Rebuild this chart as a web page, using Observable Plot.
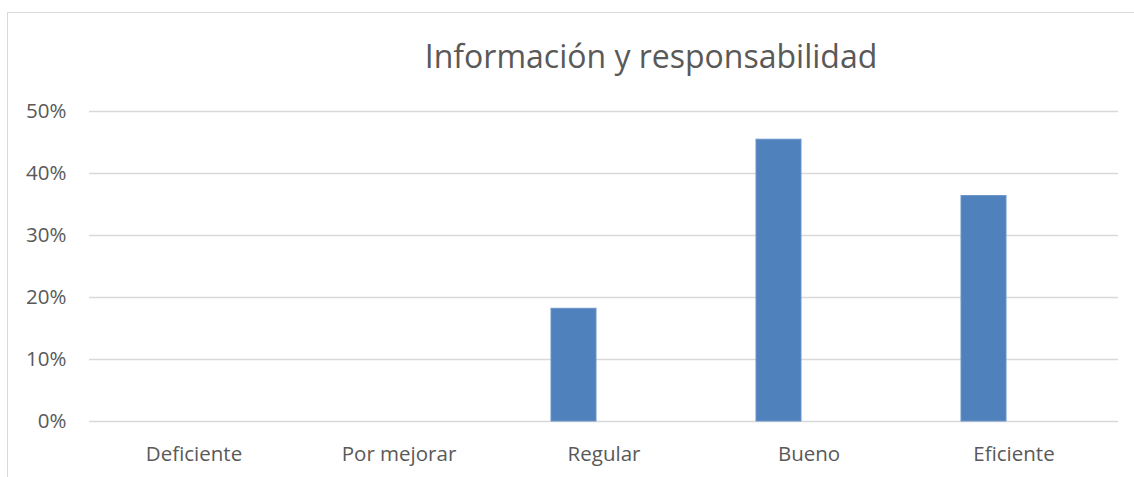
<!DOCTYPE html>
<html>
<head>
<meta charset="utf-8">
<script src="https://cdn.jsdelivr.net/npm/d3@7"></script>
<script src="https://cdn.jsdelivr.net/npm/@observablehq/plot@0.6"></script>
<style>
  html, body { margin: 0; padding: 0; background: #fff; }
  #wrap { position: relative; width: 1134px; height: 477px; overflow: hidden; font-family: "Open Sans", sans-serif; }
  #frame { position: absolute; left: 7px; top: 12px; width: 1200px; height: 600px; border-left: 1px solid #d9d9d9; border-top: 1px solid #d9d9d9; }
  #title { position: absolute; left: 351px; width: 600px; top: 34px; text-align: center; font-size: 32px; color: #595959; line-height: 44px; }
  #chart { position: absolute; left: 0; top: 0; }
</style>
</head>
<body>
<div id="wrap">
  <div id="frame"></div>
  <div id="chart"></div>
  <div id="title">Información y responsabilidad</div>
</div>
<script>
const categories = ["Deficiente", "Por mejorar", "Regular", "Bueno", "Eficiente"];
const values = [0, 0, 0.1818, 0.4545, 0.3636];
const yTicks = [0, 0.1, 0.2, 0.3, 0.4, 0.5];

const data = categories.map((c, i) => ({category: c, value: values[i]}));

const chart = Plot.plot({
  width: 1134,
  height: 477,
  marginTop: 111,
  marginBottom: 56,
  marginLeft: 89,
  marginRight: 16,
  style: {fontFamily: "'Open Sans', sans-serif", fontSize: "20.5px", color: "#595959", background: "transparent"},
  x: {domain: categories, padding: 0, label: null},
  y: {domain: [0, 0.5], label: null},
  marks: [
    Plot.gridY(yTicks, {stroke: "#d9d9d9", strokeOpacity: 1, strokeWidth: 1.3}),
    Plot.barY(data, {x: "category", y: "value", fill: "#4f81bd", stroke: "#6a93c8", strokeWidth: 1, insetLeft: 50, insetRight: 110}),
    Plot.axisY(yTicks, {tickSize: 0, tickPadding: 23, tickFormat: d => Math.round(d * 100) + "%", label: null, fill: "#595959"}),
    Plot.axisX({tickSize: 0, tickPadding: 25, label: null, fill: "#595959"})
  ]
});
document.getElementById("chart").appendChild(chart);
</script>
</body>
</html>
